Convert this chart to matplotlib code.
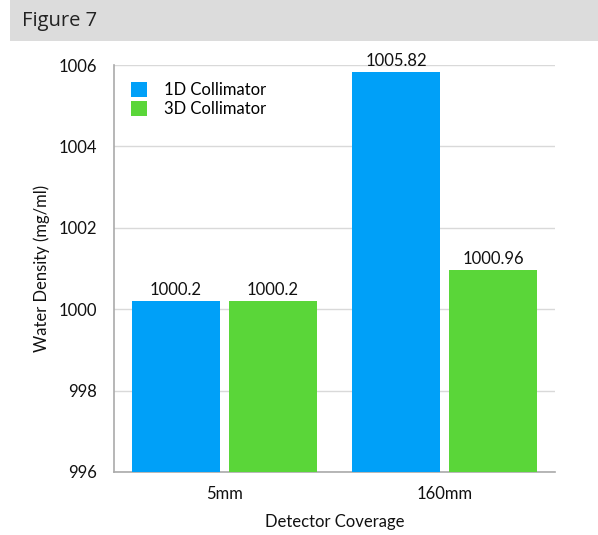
import matplotlib
matplotlib.use("Agg")
import matplotlib.pyplot as plt
import numpy as np
from matplotlib.patches import Rectangle

categories = ["5mm", "160mm"]
series_names = ["1D Collimator", "3D Collimator"]
vals_1d = [1000.2, 1005.82]
vals_3d = [1000.2, 1000.96]
label_1d = ["1000.2", "1005.82"]
label_3d = ["1000.2", "1000.96"]
yticks = [996, 998, 1000, 1002, 1004, 1006]

plt.rcParams['font.family'] = ['Lato', 'DejaVu Sans']

fig = plt.figure(figsize=(5.98, 5.35), dpi=100)
# header band
fig.patches.append(Rectangle((10/598, 1 - 41/535), 1 - 10/598, 41/535,
                             transform=fig.transFigure, facecolor='#dcdcdc',
                             edgecolor='none', zorder=0))
fig.text(22/598, 1 - 21/535, "Figure 7", fontsize=14.5, va='center', ha='left',
         family=['Open Sans', 'DejaVu Sans'], color='#222222')

ax = fig.add_axes([114/598, 1 - 472/535, (555-114)/598, (472-65)/535])
x = np.arange(len(categories))
w = 0.40
off = 0.22
c1 = '#00a0f8'
c2 = '#5ad639'
ax.bar(x - off, [v - 996 for v in vals_1d], w, bottom=996, color=c1, label=series_names[0], zorder=3)
ax.bar(x + off, [v - 996 for v in vals_3d], w, bottom=996, color=c2, label=series_names[1], zorder=3)
for xi, v, t in zip(x - off, vals_1d, label_1d):
    ax.text(xi, v + 0.08, t, ha='center', va='bottom', fontsize=12, color='#111111')
for xi, v, t in zip(x + off, vals_3d, label_3d):
    ax.text(xi, v + 0.08, t, ha='center', va='bottom', fontsize=12, color='#111111')

ax.set_xlim(-0.5, 1.5)
ax.set_ylim(996, 1006)
ax.set_yticks(yticks)
ax.set_yticklabels([str(t) for t in yticks], fontsize=12)
ax.set_xticks(x)
ax.set_xticklabels(categories, fontsize=12)
ax.tick_params(axis='both', length=0, pad=10, colors='#111111')
ax.tick_params(axis='y', pad=12)
ax.grid(axis='y', color='#d9d9d9', linewidth=1, zorder=0)
for s in ['top', 'right']:
    ax.spines[s].set_visible(False)
for s in ['left', 'bottom']:
    ax.spines[s].set_color('#aaaaaa')
    ax.spines[s].set_linewidth(1.2)
ax.set_xlabel("Detector Coverage", fontsize=12, labelpad=9, color='#111111')
ax.set_ylabel("Water Density (mg/ml)", fontsize=12, labelpad=6, color='#111111')

ax.legend(loc='upper left', bbox_to_anchor=(0.0, 1.0), frameon=False, fontsize=12,
          handlelength=1.0, handleheight=1.0, handletextpad=1.0, labelspacing=0.2,
          borderaxespad=0.6)

fig.savefig("out.png", dpi=100)
